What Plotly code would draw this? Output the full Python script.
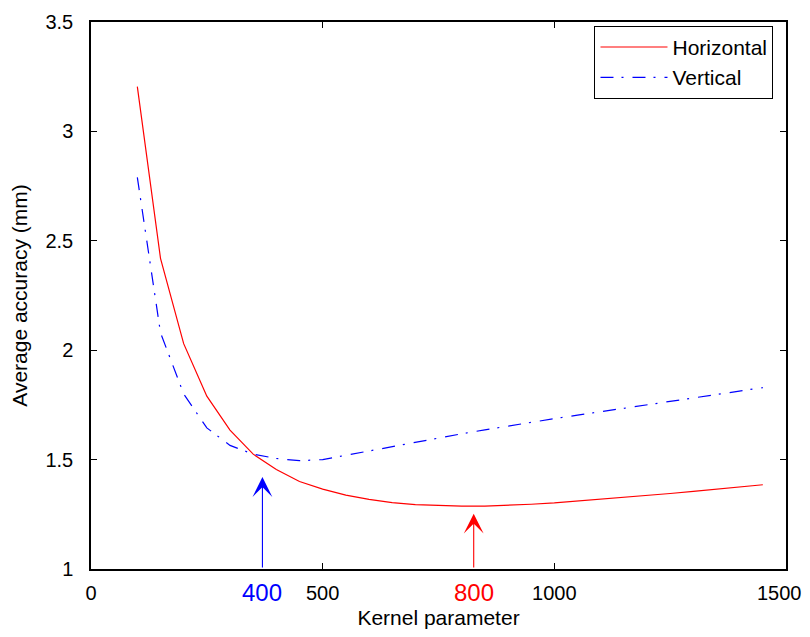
import plotly.graph_objects as go

# Kernel parameter samples
kernel = [100, 150, 200, 250, 300, 350, 400, 450, 500, 550, 600, 650, 700, 750,
          800, 850, 900, 950, 1000, 1050, 1100, 1150, 1200, 1250, 1300, 1350, 1400, 1450]

horizontal = [3.205, 2.42, 2.03, 1.79, 1.635, 1.525, 1.455, 1.40, 1.365, 1.338,
              1.318, 1.303, 1.294, 1.289, 1.287, 1.287, 1.290, 1.296, 1.302, 1.310,
              1.318, 1.327, 1.336, 1.345, 1.355, 1.365, 1.375, 1.385]

vertical = [2.79, 2.08, 1.80, 1.645, 1.565, 1.525, 1.505, 1.495, 1.50, 1.52,
            1.54, 1.56, 1.58, 1.60, 1.618, 1.636, 1.654, 1.671, 1.687, 1.703,
            1.719, 1.735, 1.751, 1.767, 1.783, 1.798, 1.813, 1.829]

# Marked optima (arrow positions and labels)
arrow_x = [370, 826]
arrow_tip = [1.42, 1.253]
arrow_labels = ["400", "800"]
arrow_colors = ["#0000ff", "#ff0000"]

x_ticks = [0, 500, 1000, 1500]
y_ticks = [1, 1.5, 2, 2.5, 3, 3.5]

FONT = "Liberation Sans, Arial, Helvetica, sans-serif"

fig = go.Figure()
fig.add_trace(go.Scatter(x=kernel, y=horizontal, mode="lines", name="Horizontal",
                         line=dict(color="#ff0000", width=1.2)))
fig.add_trace(go.Scatter(x=kernel, y=vertical, mode="lines", name="Vertical",
                         line=dict(color="#0000ff", width=1.2, dash="13px,8px,2px,9px")))

for xa, tip, lab, col in zip(arrow_x, arrow_tip, arrow_labels, arrow_colors):
    fig.add_annotation(x=xa, y=tip, ax=xa, ay=1.0, xref="x", yref="y",
                       axref="x", ayref="y", text="", showarrow=True,
                       arrowhead=3, arrowsize=3, arrowwidth=1.1, arrowcolor=col)
    fig.add_annotation(x=xa, y=-0.043, xref="x", yref="paper", text=lab, showarrow=False,
                       font=dict(family=FONT, size=24, color=col),
                       xanchor="center", yanchor="middle")

# last x tick label drawn as annotation, nudged so it stays inside the page
x_ticktext = [str(v) for v in x_ticks[:-1]] + [""]
fig.add_annotation(x=x_ticks[-1], y=-0.043, xref="x", yref="paper", text=str(x_ticks[-1]),
                   showarrow=False, xshift=-7,
                   font=dict(family=FONT, size=20, color="black"),
                   xanchor="center", yanchor="middle")

axis_common = dict(showgrid=False, zeroline=False, showline=True, linecolor="black",
                   linewidth=1.5, mirror="allticks", ticks="inside", ticklen=6,
                   tickcolor="black", tickwidth=1.2, automargin=False,
                   ticklabeloverflow="allow",
                   tickfont=dict(family=FONT, size=20, color="black"))

fig.update_xaxes(range=[0, 1500], tickvals=x_ticks, ticktext=x_ticktext,
                 title=dict(text="Kernel parameter", font=dict(family=FONT, size=21, color="black"),
                            standoff=11),
                 ticklabelstandoff=5, **axis_common)
fig.update_yaxes(range=[1, 3.5], tickvals=y_ticks, ticktext=["1", "1.5", "2", "2.5", "3", "3.5"],
                 title=dict(text="Average accuracy (mm)", font=dict(family=FONT, size=21, color="black"),
                            standoff=15),
                 ticklabelstandoff=12, **axis_common)

fig.update_layout(
    width=794, height=621,
    margin=dict(l=83, r=16, t=14, b=60),
    plot_bgcolor="white", paper_bgcolor="white",
    font=dict(family=FONT, color="black"),
    showlegend=True,
    legend=dict(x=0.982, y=0.993, xanchor="right", yanchor="top",
                bordercolor="black", borderwidth=1, bgcolor="white",
                font=dict(family=FONT, size=21, color="black"),
                itemwidth=67),
)

fig.write_html("out.html")
